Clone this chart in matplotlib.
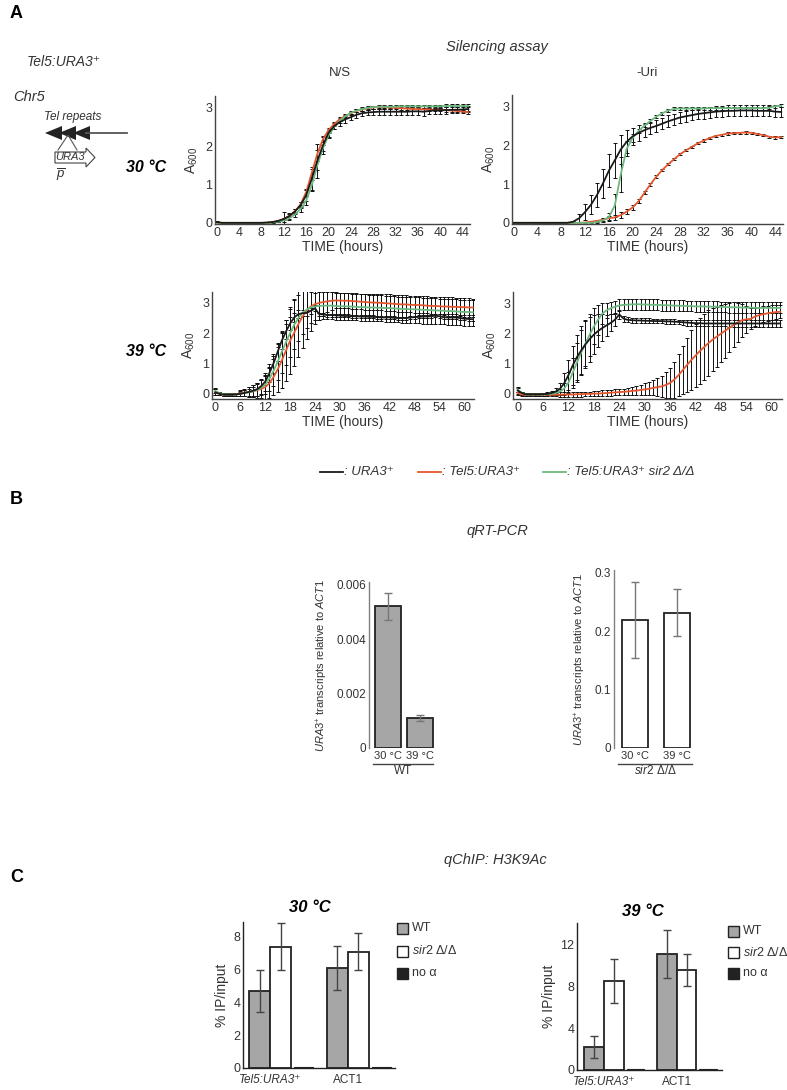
import numpy as np
import matplotlib
matplotlib.use('Agg')
import matplotlib.pyplot as plt
from matplotlib.patches import Polygon, Rectangle

plt.rcParams['font.family'] = ['Liberation Sans', 'DejaVu Sans']
plt.rcParams['mathtext.fontset'] = 'custom'
plt.rcParams['mathtext.rm'] = 'Liberation Sans'
plt.rcParams['mathtext.it'] = 'Liberation Sans:italic'
plt.rcParams['mathtext.bf'] = 'Liberation Sans:bold'

W, H = 787, 1090
BLACK, ORANGE, GREEN = '#1a1a1a', '#e4572e', '#6cb97f'
TXT = '#333333'

# ---- growth curves, 30 °C (hourly, 0-45 h) ----
hours30 = np.arange(46)
ns30_black = [0.02, 0.00, 0.00, 0.00, 0.00, 0.00, 0.00, 0.00, 0.00, 0.01,
              0.02, 0.05, 0.10, 0.18, 0.30, 0.46, 0.72, 1.15, 1.62, 2.02,
              2.35, 2.52, 2.63, 2.70, 2.76, 2.82, 2.86, 2.88, 2.89, 2.90,
              2.90, 2.90, 2.90, 2.90, 2.90, 2.91, 2.91, 2.90, 2.92, 2.94,
              2.94, 2.94, 2.95, 2.95, 2.96, 2.97]
ns30_black_err = [0.03, 0.01, 0.01, 0.01, 0.01, 0.01, 0.01, 0.01, 0.01, 0.01,
                  0.02, 0.03, 0.18, 0.08, 0.06, 0.08, 0.15, 0.30, 0.45, 0.22,
                  0.10, 0.08, 0.10, 0.10, 0.08, 0.08, 0.07, 0.07, 0.07, 0.08,
                  0.08, 0.08, 0.09, 0.09, 0.09, 0.10, 0.10, 0.10, 0.09, 0.09,
                  0.09, 0.09, 0.09, 0.08, 0.08, 0.08]
ns30_orange = [0.00, 0.00, 0.00, 0.00, 0.00, 0.00, 0.00, 0.00, 0.00, 0.00,
               0.02, 0.05, 0.10, 0.18, 0.30, 0.48, 0.80, 1.30, 1.80, 2.18,
               2.42, 2.58, 2.70, 2.79, 2.86, 2.92, 2.96, 2.99, 3.01, 3.02,
               3.02, 3.01, 3.00, 2.99, 2.98, 2.97, 2.97, 2.96, 2.96, 2.95,
               2.95, 2.94, 2.93, 2.92, 2.90, 2.89]
ns30_orange_err = [0.01, 0.01, 0.01, 0.01, 0.01, 0.01, 0.01, 0.01, 0.01, 0.01,
                   0.01, 0.02, 0.03, 0.04, 0.05, 0.06, 0.08, 0.10, 0.10, 0.08,
                   0.06, 0.05, 0.05, 0.04, 0.04, 0.04, 0.04, 0.04, 0.04, 0.04,
                   0.04, 0.04, 0.04, 0.04, 0.04, 0.04, 0.04, 0.04, 0.04, 0.04,
                   0.04, 0.04, 0.04, 0.04, 0.04, 0.04]
ns30_green = [0.00, 0.00, 0.00, 0.00, 0.00, 0.00, 0.00, 0.00, 0.00, 0.00,
              0.01, 0.03, 0.06, 0.12, 0.22, 0.36, 0.58, 0.98, 1.50, 1.95,
              2.28, 2.50, 2.66, 2.78, 2.87, 2.93, 2.97, 3.00, 3.02, 3.03,
              3.03, 3.03, 3.03, 3.04, 3.04, 3.04, 3.04, 3.04, 3.04, 3.04,
              3.04, 3.05, 3.05, 3.05, 3.05, 3.05]
ns30_green_err = [0.01, 0.01, 0.01, 0.01, 0.01, 0.01, 0.01, 0.01, 0.01, 0.01,
                  0.01, 0.02, 0.03, 0.05, 0.06, 0.08, 0.12, 0.15, 0.12, 0.08,
                  0.06, 0.05, 0.05, 0.04, 0.04, 0.04, 0.04, 0.04, 0.04, 0.04,
                  0.04, 0.04, 0.04, 0.04, 0.04, 0.04, 0.04, 0.04, 0.04, 0.04,
                  0.04, 0.04, 0.04, 0.04, 0.04, 0.04]

uri30_black = [0.00, 0.00, 0.00, 0.00, 0.00, 0.00, 0.00, 0.00, 0.00, 0.00,
               0.03, 0.12, 0.28, 0.47, 0.72, 1.02, 1.35, 1.62, 1.90, 2.10,
               2.24, 2.33, 2.40, 2.46, 2.51, 2.57, 2.63, 2.68, 2.73, 2.76,
               2.79, 2.82, 2.84, 2.86, 2.88, 2.89, 2.90, 2.90, 2.91, 2.91,
               2.91, 2.90, 2.90, 2.90, 2.88, 2.87]
uri30_black_err = [0.01, 0.01, 0.01, 0.01, 0.01, 0.01, 0.01, 0.01, 0.01, 0.01,
                   0.03, 0.10, 0.20, 0.25, 0.30, 0.38, 0.42, 0.45, 0.38, 0.30,
                   0.22, 0.20, 0.18, 0.16, 0.15, 0.15, 0.15, 0.14, 0.14, 0.14,
                   0.14, 0.14, 0.14, 0.14, 0.14, 0.14, 0.14, 0.14, 0.14, 0.14,
                   0.14, 0.14, 0.14, 0.14, 0.14, 0.14]
uri30_orange = [0.00, 0.00, 0.00, 0.00, 0.00, 0.00, 0.00, 0.00, 0.00, 0.00,
                0.00, 0.00, 0.01, 0.03, 0.05, 0.08, 0.12, 0.14, 0.20, 0.29,
                0.40, 0.56, 0.78, 1.00, 1.20, 1.37, 1.52, 1.65, 1.78, 1.88,
                1.97, 2.06, 2.13, 2.20, 2.25, 2.28, 2.31, 2.32, 2.33, 2.34,
                2.33, 2.30, 2.27, 2.23, 2.21, 2.22]
uri30_orange_err = [0.01, 0.01, 0.01, 0.01, 0.01, 0.01, 0.01, 0.01, 0.01, 0.01,
                    0.01, 0.01, 0.02, 0.02, 0.03, 0.04, 0.05, 0.06, 0.07, 0.07,
                    0.06, 0.05, 0.04, 0.04, 0.04, 0.03, 0.03, 0.03, 0.03, 0.03,
                    0.03, 0.03, 0.03, 0.03, 0.03, 0.03, 0.03, 0.03, 0.03, 0.03,
                    0.03, 0.03, 0.03, 0.03, 0.03, 0.03]
uri30_green = [0.00, 0.00, 0.00, 0.00, 0.00, 0.00, 0.00, 0.00, 0.00, 0.00,
               0.00, 0.00, 0.00, 0.00, 0.02, 0.06, 0.15, 0.45, 1.25, 1.92,
               2.20, 2.38, 2.52, 2.64, 2.75, 2.84, 2.91, 2.95, 2.96, 2.96,
               2.96, 2.96, 2.96, 2.97, 2.97, 2.97, 2.97, 2.97, 2.97, 2.97,
               2.97, 2.97, 2.97, 2.98, 3.02, 3.03]
uri30_green_err = [0.01, 0.01, 0.01, 0.01, 0.01, 0.01, 0.01, 0.01, 0.01, 0.01,
                   0.01, 0.01, 0.01, 0.01, 0.02, 0.05, 0.10, 0.30, 0.45, 0.20,
                   0.10, 0.06, 0.05, 0.05, 0.04, 0.04, 0.04, 0.04, 0.04, 0.04,
                   0.04, 0.04, 0.04, 0.04, 0.04, 0.04, 0.04, 0.04, 0.04, 0.04,
                   0.04, 0.04, 0.04, 0.04, 0.04, 0.04]

# ---- growth curves, 39 °C (hourly, 0-62 h) ----
hours39 = np.arange(63)
ns39_black = [0.05, 0.00, -0.03, -0.03, -0.03, -0.02, 0.00, 0.03, 0.06, 0.10,
              0.15, 0.25, 0.40, 0.68, 1.00, 1.38, 1.75, 2.05, 2.32, 2.52,
              2.63, 2.66, 2.67, 2.74, 2.82, 2.63, 2.62, 2.60, 2.60, 2.59,
              2.58, 2.57, 2.57, 2.56, 2.56, 2.55, 2.55, 2.54, 2.54, 2.53,
              2.52, 2.52, 2.52, 2.51, 2.50, 2.50, 2.50, 2.52, 2.53, 2.54,
              2.55, 2.55, 2.56, 2.58, 2.56, 2.53, 2.52, 2.52, 2.52, 2.50,
              2.48, 2.47, 2.46]
ns39_black_err = [0.10, 0.05, 0.05, 0.05, 0.05, 0.05, 0.06, 0.10, 0.15, 0.20,
                  0.22, 0.25, 0.30, 0.30, 0.30, 0.30, 0.28, 0.25, 0.20, 0.15,
                  0.12, 0.10, 0.10, 0.10, 0.10, 0.05, 0.05, 0.05, 0.05, 0.05,
                  0.05, 0.05, 0.05, 0.05, 0.05, 0.05, 0.05, 0.05, 0.05, 0.05,
                  0.05, 0.05, 0.05, 0.05, 0.05, 0.05, 0.05, 0.05, 0.05, 0.05,
                  0.05, 0.05, 0.05, 0.06, 0.06, 0.06, 0.06, 0.06, 0.06, 0.06,
                  0.06, 0.06, 0.06]
ns39_orange = [0.05, 0.00, -0.03, -0.03, -0.03, -0.02, 0.02, 0.04, 0.06, 0.08,
               0.12, 0.16, 0.22, 0.35, 0.55, 0.80, 1.10, 1.42, 1.75, 2.02,
               2.30, 2.55, 2.75, 2.88, 2.96, 3.00, 3.03, 3.05, 3.07, 3.08,
               3.08, 3.07, 3.07, 3.06, 3.05, 3.04, 3.03, 3.02, 3.01, 3.01,
               3.00, 2.99, 2.98, 2.97, 2.96, 2.95, 2.95, 2.94, 2.93, 2.93,
               2.92, 2.91, 2.90, 2.90, 2.89, 2.88, 2.88, 2.87, 2.87, 2.86,
               2.86, 2.85, 2.85]
ns39_orange_err = [0.10, 0.05, 0.05, 0.05, 0.05, 0.05, 0.10, 0.12, 0.15, 0.20,
                   0.25, 0.30, 0.40, 0.50, 0.60, 0.75, 0.90, 1.00, 1.10, 1.10,
                   1.10, 1.05, 0.95, 0.80, 0.65, 0.55, 0.45, 0.35, 0.30, 0.25,
                   0.25, 0.25, 0.25, 0.25, 0.25, 0.25, 0.25, 0.25, 0.25, 0.25,
                   0.25, 0.25, 0.25, 0.25, 0.25, 0.25, 0.25, 0.25, 0.25, 0.25,
                   0.25, 0.25, 0.25, 0.25, 0.25, 0.25, 0.25, 0.25, 0.25, 0.25,
                   0.25, 0.25, 0.25]
ns39_green = [0.10, 0.02, -0.02, -0.02, -0.02, -0.02, 0.00, 0.03, 0.05, 0.08,
              0.13, 0.20, 0.30, 0.50, 0.75, 1.05, 1.38, 1.70, 2.00, 2.28,
              2.50, 2.68, 2.78, 2.85, 2.88, 2.90, 2.91, 2.91, 2.91, 2.90,
              2.89, 2.89, 2.88, 2.88, 2.87, 2.86, 2.86, 2.85, 2.85, 2.84,
              2.84, 2.83, 2.83, 2.82, 2.81, 2.80, 2.80, 2.79, 2.79, 2.78,
              2.77, 2.77, 2.76, 2.75, 2.75, 2.74, 2.73, 2.73, 2.72, 2.71,
              2.70, 2.70, 2.69]
ns39_green_err = [0.08, 0.05, 0.05, 0.05, 0.05, 0.05, 0.08, 0.10, 0.12, 0.15,
                  0.20, 0.25, 0.30, 0.40, 0.50, 0.60, 0.70, 0.75, 0.80, 0.80,
                  0.75, 0.70, 0.60, 0.50, 0.45, 0.45, 0.45, 0.45, 0.45, 0.45,
                  0.45, 0.45, 0.45, 0.45, 0.45, 0.45, 0.45, 0.45, 0.45, 0.45,
                  0.45, 0.45, 0.45, 0.45, 0.45, 0.45, 0.45, 0.45, 0.45, 0.45,
                  0.45, 0.45, 0.45, 0.45, 0.45, 0.45, 0.45, 0.45, 0.45, 0.45,
                  0.45, 0.45, 0.45]

uri39_black = [0.08, 0.00, -0.05, -0.05, -0.05, -0.05, -0.04, -0.03, 0.00, 0.05,
               0.14, 0.33, 0.60, 0.92, 1.20, 1.42, 1.62, 1.80, 1.95, 2.07,
               2.17, 2.26, 2.34, 2.45, 2.62, 2.48, 2.44, 2.43, 2.42, 2.42,
               2.41, 2.41, 2.40, 2.40, 2.40, 2.39, 2.39, 2.38, 2.37, 2.36,
               2.35, 2.34, 2.33, 2.33, 2.32, 2.32, 2.32, 2.32, 2.32, 2.32,
               2.32, 2.32, 2.32, 2.32, 2.32, 2.32, 2.32, 2.32, 2.32, 2.32,
               2.32, 2.32, 2.32]
uri39_black_err = [0.10, 0.05, 0.05, 0.05, 0.05, 0.05, 0.05, 0.05, 0.08, 0.12,
                   0.20, 0.35, 0.50, 0.65, 0.75, 0.80, 0.80, 0.75, 0.65, 0.55,
                   0.45, 0.35, 0.28, 0.20, 0.15, 0.10, 0.08, 0.08, 0.08, 0.08,
                   0.08, 0.08, 0.08, 0.08, 0.08, 0.08, 0.08, 0.08, 0.08, 0.08,
                   0.10, 0.10, 0.10, 0.10, 0.10, 0.10, 0.10, 0.10, 0.10, 0.10,
                   0.12, 0.12, 0.12, 0.12, 0.12, 0.12, 0.12, 0.12, 0.12, 0.12,
                   0.12, 0.12, 0.12]
uri39_orange = [0.00, -0.05, -0.06, -0.06, -0.06, -0.06, -0.06, -0.06, -0.06, -0.06,
                -0.06, -0.05, -0.05, -0.05, -0.04, -0.04, -0.03, -0.03, -0.02, -0.02,
                -0.01, 0.00, 0.01, 0.02, 0.03, 0.04, 0.05, 0.07, 0.08, 0.10,
                0.12, 0.14, 0.17, 0.20, 0.22, 0.27, 0.34, 0.45, 0.60, 0.77,
                0.94, 1.10, 1.25, 1.40, 1.53, 1.66, 1.78, 1.88, 1.98, 2.08,
                2.18, 2.27, 2.36, 2.43, 2.46, 2.47, 2.55, 2.60, 2.63, 2.66,
                2.68, 2.70, 2.71]
uri39_orange_err = [0.05, 0.05, 0.05, 0.05, 0.05, 0.05, 0.05, 0.05, 0.05, 0.05,
                    0.08, 0.08, 0.08, 0.08, 0.08, 0.08, 0.08, 0.08, 0.08, 0.08,
                    0.10, 0.10, 0.10, 0.10, 0.10, 0.10, 0.12, 0.14, 0.16, 0.18,
                    0.20, 0.22, 0.25, 0.30, 0.35, 0.42, 0.50, 0.60, 0.70, 0.80,
                    0.90, 1.00, 1.05, 1.10, 1.10, 1.10, 1.05, 1.00, 0.95, 0.90,
                    0.82, 0.75, 0.65, 0.55, 0.45, 0.35, 0.30, 0.28, 0.26, 0.25,
                    0.24, 0.23, 0.22]
uri39_green = [0.12, 0.00, -0.05, -0.05, -0.05, -0.05, -0.05, -0.04, -0.03, 0.00,
               0.05, 0.15, 0.35, 0.68, 1.02, 1.35, 1.65, 1.95, 2.22, 2.45,
               2.65, 2.76, 2.83, 2.88, 2.92, 2.94, 2.95, 2.96, 2.96, 2.96,
               2.95, 2.95, 2.94, 2.94, 2.93, 2.93, 2.92, 2.92, 2.91, 2.91,
               2.90, 2.90, 2.89, 2.89, 2.89, 2.88, 2.88, 2.88, 2.87, 2.87,
               2.86, 2.86, 2.86, 2.85, 2.85, 2.85, 2.84, 2.84, 2.84, 2.84,
               2.84, 2.84, 2.84]
uri39_green_err = [0.08, 0.05, 0.05, 0.05, 0.05, 0.05, 0.05, 0.05, 0.05, 0.06,
                   0.10, 0.20, 0.35, 0.50, 0.65, 0.75, 0.75, 0.70, 0.60, 0.50,
                   0.35, 0.25, 0.20, 0.20, 0.20, 0.18, 0.18, 0.18, 0.18, 0.18,
                   0.18, 0.18, 0.18, 0.18, 0.18, 0.18, 0.18, 0.18, 0.18, 0.18,
                   0.18, 0.18, 0.18, 0.18, 0.18, 0.18, 0.18, 0.18, 0.18, 0.18,
                   0.18, 0.18, 0.18, 0.18, 0.18, 0.18, 0.18, 0.18, 0.18, 0.18,
                   0.18, 0.18, 0.18]

# ---- qRT-PCR ----
qrt_temps = ['30 °C', '39 °C']
qrt_wt = [0.0052, 0.0011]
qrt_wt_err = [0.0005, 0.0001]
qrt_sir2 = [0.220, 0.232]
qrt_sir2_err = [0.065, 0.040]

# ---- qChIP H3K9Ac ----
chip_loci = ['Tel5:URA3⁺', 'ACT1']
chip30_wt = [4.7, 6.1]
chip30_wt_err = [1.3, 1.35]
chip30_sir2 = [7.4, 7.1]
chip30_sir2_err = [1.45, 1.1]
chip30_noa = [0.05, 0.05]
chip39_wt = [2.2, 11.1]
chip39_wt_err = [1.05, 2.3]
chip39_sir2 = [8.55, 9.6]
chip39_sir2_err = [2.1, 1.5]
chip39_noa = [0.05, 0.05]


fig = plt.figure(figsize=(W / 100, H / 100), dpi=100)
ov = fig.add_axes([0, 0, 1, 1])
ov.set_xlim(0, W)
ov.set_ylim(H, 0)
ov.axis('off')


def px_axes(l, t, r, b):
    return fig.add_axes([l / W, 1 - b / H, (r - l) / W, (b - t) / H])


def style(ax, spine_col='#444444'):
    for s in ['top', 'right']:
        ax.spines[s].set_visible(False)
    for s in ['left', 'bottom']:
        ax.spines[s].set_color(spine_col)
        ax.spines[s].set_linewidth(1.0)
    ax.tick_params(length=0, pad=2, labelsize=9, colors=TXT)


def growth_panel(box, t, curves, xticks, xlim, ylim):
    ax = px_axes(*box)
    for y, err, col in curves:
        ax.errorbar(t, y, yerr=err, fmt='none', ecolor='#111111', elinewidth=0.7,
                    capsize=1.3, capthick=0.7, zorder=2)
        ax.plot(t, y, color=col, lw=1.3, zorder=3)
    ax.set_xlim(*xlim)
    ax.set_ylim(*ylim)
    ax.set_xticks(xticks)
    ax.set_yticks([0, 1, 2, 3])
    style(ax)
    ax.set_xlabel('TIME (hours)', fontsize=10, color=TXT, labelpad=1)
    ax.set_ylabel('A$_{600}$', fontsize=10, color=TXT, labelpad=4)
    return ax


growth_panel((215, 96, 470, 224), hours30,
             [(ns30_orange, ns30_orange_err, ORANGE), (ns30_green, ns30_green_err, GREEN),
              (ns30_black, ns30_black_err, BLACK)],
             range(0, 45, 4), (-0.3, 45.3), (-0.03, 3.31))
growth_panel((512, 95, 783, 224), hours30,
             [(uri30_orange, uri30_orange_err, ORANGE), (uri30_green, uri30_green_err, GREEN),
              (uri30_black, uri30_black_err, BLACK)],
             range(0, 45, 4), (-0.3, 45.3), (-0.03, 3.31))
growth_panel((212, 292, 474, 399), hours39,
             [(ns39_orange, ns39_orange_err, ORANGE), (ns39_green, ns39_green_err, GREEN),
              (ns39_black, ns39_black_err, BLACK)],
             range(0, 61, 6), (-0.8, 62.3), (-0.17, 3.36))
growth_panel((513, 292, 782, 399), hours39,
             [(uri39_orange, uri39_orange_err, ORANGE), (uri39_green, uri39_green_err, GREEN),
              (uri39_black, uri39_black_err, BLACK)],
             range(0, 61, 6), (-1.1, 62.4), (-0.2, 3.37))


def qrt_panel(box, vals, errs, fill, yticks, ylabels, ylim, xlim, width):
    ax = px_axes(*box)
    x = np.arange(len(vals))
    ax.bar(x, vals, width, color=fill, edgecolor='#222222', linewidth=1.3, yerr=errs,
           error_kw=dict(ecolor='#777777', elinewidth=1.0, capsize=3, capthick=1.0))
    ax.set_xlim(*xlim)
    ax.set_ylim(*ylim)
    ax.set_xticks(x)
    ax.set_xticklabels(qrt_temps)
    ax.set_yticks(yticks)
    ax.set_yticklabels(ylabels)
    style(ax, '#808080')
    ax.spines['bottom'].set_visible(False)
    ax.tick_params(labelsize=8.5)
    ax.tick_params(axis='x', labelsize=8)
    ax.set_ylabel(r'$\mathit{URA3}^{+}$ transcripts relative to $\mathit{ACT1}$',
                  fontsize=8, color=TXT, labelpad=5)
    return ax


qrt_panel((369, 582, 436, 748), qrt_wt, qrt_wt_err, '#a6a6a6',
          [0, 0.002, 0.004, 0.006], ['0', '0.002', '0.004', '0.006'],
          (0, 0.0061), (-0.59, 1.5), 0.81)
qrt_panel((614, 570, 694, 748), qrt_sir2, qrt_sir2_err, 'white',
          [0, 0.1, 0.2, 0.3], ['0', '0.1', '0.2', '0.3'],
          (0, 0.305), (-0.5, 1.4), 0.62)


def chip_panel(box, wt, wt_err, sir, sir_err, noa, yticks, ylim, xlim):
    ax = px_axes(*box)
    x = np.arange(len(wt))
    w = 0.27
    ekw = dict(ecolor='#444444', elinewidth=1.0, capsize=3, capthick=1.0)
    ax.bar(x - w / 2, wt, w, color='#a6a6a6', edgecolor='#222222', linewidth=1.3,
           yerr=wt_err, error_kw=ekw)
    ax.bar(x + w / 2, sir, w, color='white', edgecolor='#222222', linewidth=1.3,
           yerr=sir_err, error_kw=ekw)
    ax.bar(x + 1.6 * w, noa, w * 0.9, color='#222222', edgecolor='#222222', linewidth=0.8)
    ax.set_xlim(*xlim)
    ax.set_ylim(*ylim)
    ax.set_xticks(x)
    ax.set_xticklabels(chip_loci)
    ax.get_xticklabels()[0].set_style('italic')
    ax.set_yticks(yticks)
    style(ax, '#222222')
    ax.tick_params(labelsize=9)
    ax.tick_params(axis='x', labelsize=8.5, pad=4)
    ax.set_ylabel('% IP/input', fontsize=10, color=TXT, labelpad=3)
    return ax


chip_panel((243, 922, 395, 1068), chip30_wt, chip30_wt_err, chip30_sir2, chip30_sir2_err,
           chip30_noa, [0, 2, 4, 6, 8], (0, 8.9), (-0.35, 1.61))
chip_panel((577, 923, 722, 1070), chip39_wt, chip39_wt_err, chip39_sir2, chip39_sir2_err,
           chip39_noa, [0, 4, 8, 12], (0, 14.1), (-0.37, 1.62))

# ---- annotations ----
for letter, y in [('A', 13), ('B', 499), ('C', 878)]:
    ov.text(10, y, letter, fontsize=13, fontweight='bold', va='center', ha='left')

ov.text(27, 62, 'Tel5:URA3⁺', fontsize=10, style='italic', va='center', color=TXT)
ov.text(13, 97, 'Chr5', fontsize=10.5, style='italic', va='center', color=TXT)
ov.text(497, 47, 'Silencing assay', fontsize=10.5, style='italic', ha='center', va='center', color=TXT)
ov.text(340, 73, 'N/S', fontsize=9.5, ha='center', va='center', color=TXT)
ov.text(647, 73, '-Uri', fontsize=9.5, ha='center', va='center', color=TXT)
ov.text(146, 168, '30 °C', fontsize=11.5, fontweight='bold', style='italic', ha='center', va='center')
ov.text(146, 352, '39 °C', fontsize=11.5, fontweight='bold', style='italic', ha='center', va='center')

# chromosome end cartoon
ov.text(73, 117, 'Tel repeats', fontsize=8.5, style='italic', ha='center', va='center', color=TXT)
ov.plot([86, 127], [133, 133], color='#555555', lw=1.3)
for tip in [45, 59, 73]:
    ov.add_patch(Polygon([[tip, 133], [tip + 17, 126], [tip + 17, 140]], closed=True,
                         facecolor='#222222', edgecolor='none'))
ov.plot([58, 68, 77], [150, 135, 150], color='#555555', lw=0.8)
ov.add_patch(Polygon([[55, 152], [86, 152], [86, 148], [95, 157.5], [86, 167], [86, 163], [55, 163]],
                     closed=True, facecolor='white', edgecolor='#444444', lw=0.8))
ov.text(70, 157.5, 'URA3', fontsize=8, style='italic', ha='center', va='center', color=TXT)
ov.text(61, 175, r'$\overline{p}$', fontsize=9.5, ha='center', va='center', color=TXT)

# legend for growth curves
for x0, col, lab in [(320, BLACK, ': URA3⁺'), (418, ORANGE, ': Tel5:URA3⁺'),
                     (543, GREEN, ': Tel5:URA3⁺ sir2 Δ/Δ')]:
    ov.plot([x0, x0 + 23], [472, 472], color=col, lw=1.3)
    ov.text(x0 + 24, 472, lab, fontsize=9.5, style='italic', va='center', color=TXT)

# qRT-PCR
ov.text(497, 531, 'qRT-PCR', fontsize=10.5, style='italic', ha='center', va='center', color=TXT)
ov.plot([373, 433], [764, 764], color='#444444', lw=1)
ov.text(403, 771, 'WT', fontsize=8.5, ha='center', va='center', color=TXT)
ov.plot([618, 692], [764, 764], color='#444444', lw=1)
ov.text(655, 771, r'$\mathit{sir2}$ Δ/Δ', fontsize=8.5, ha='center', va='center', color=TXT)

# qChIP
ov.text(495, 860, 'qChIP: H3K9Ac', fontsize=10.5, style='italic', ha='center', va='center', color=TXT)
ov.text(310, 907, '30 °C', fontsize=12, fontweight='bold', style='italic', ha='center', va='center')
ov.text(643, 912, '39 °C', fontsize=12, fontweight='bold', style='italic', ha='center', va='center')
for lx, ys in [(397, (928, 951, 973)), (728, (931, 952, 973))]:
    for y, fc, lab in zip(ys, ['#a6a6a6', 'white', '#222222'],
                          ['WT', r'$\mathit{sir2}$ Δ/Δ', 'no α']):
        ov.add_patch(Rectangle((lx, y - 5.5), 11, 11, facecolor=fc, edgecolor='#222222', lw=1))
        ov.text(lx + 15, y, lab, fontsize=9, va='center', color=TXT)

fig.savefig('out.png', dpi=100)
